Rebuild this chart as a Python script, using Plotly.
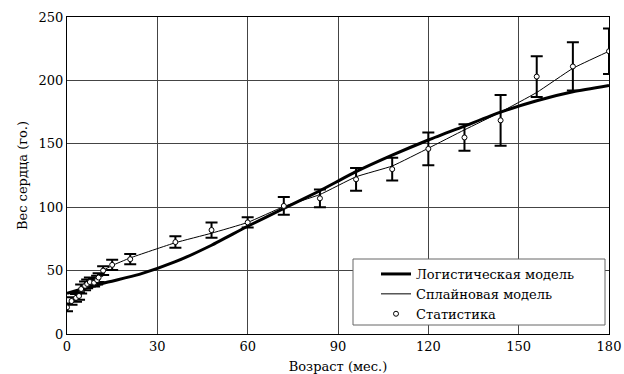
import plotly.graph_objects as go

# Observed heart weight by age (months), with spread
stat_age = [0, 1.5, 3, 4, 4.7, 6, 6.7, 7.6, 9, 10, 10.5, 12, 15, 21, 36, 48, 60, 72, 84, 96, 108, 120, 132, 144, 156, 168, 180]
stat_weight = [21, 26, 28.5, 30, 35.5, 38, 39.5, 41, 40.5, 42.5, 44.5, 50, 54.5, 59, 72.5, 82, 88, 101, 107, 122, 130, 146, 155, 168.5, 203, 211, 223]
stat_err = [3, 3, 3, 3, 3.5, 3.5, 3.5, 3.5, 3, 3.5, 3.5, 3.5, 4, 4, 4.5, 6, 4, 7, 7, 9, 9, 13, 10.5, 20, 16, 19, 18]

# Logistic model curve
logit_age = [0, 12, 24, 36, 48, 60, 72, 84, 96, 108, 120, 132, 144, 156, 168, 180]
logit_weight = [32, 40, 47, 57, 70, 85, 99, 113, 128, 141, 153, 164, 175, 184, 191, 196]

# Spline model curve
spline_age = [0, 2, 4, 6, 8, 10, 12, 15, 21, 36, 48, 60, 72, 84, 96, 108, 120, 132, 144, 156, 168, 180]
spline_weight = [21, 26, 31, 37, 40.5, 43, 50, 54, 60, 72, 79.5, 88, 100.5, 110, 124, 132.5, 146.5, 161, 175, 190.5, 209.5, 223]

x_ticks = [0, 30, 60, 90, 120, 150, 180]
y_ticks = [0, 50, 100, 150, 200, 250]

FONT = "DejaVu Serif"
FS = 13

fig = go.Figure()

fig.add_trace(go.Scatter(
    x=logit_age, y=logit_weight, mode="lines",
    name="Логистическая модель",
    line=dict(color="black", width=3, shape="spline", smoothing=0.6),
))
fig.add_trace(go.Scatter(
    x=spline_age, y=spline_weight, mode="lines",
    name="Сплайновая модель",
    line=dict(color="black", width=1, shape="spline", smoothing=0.4),
))
fig.add_trace(go.Scatter(
    x=stat_age, y=stat_weight, mode="markers",
    name="Статистика",
    marker=dict(symbol="circle", size=5, color="white",
                line=dict(color="black", width=1)),
    error_y=dict(type="data", array=stat_err, visible=True,
                 color="black", thickness=2, width=6),
))

axis_common = dict(
    showgrid=True, gridcolor="#444444", gridwidth=1,
    showline=True, linecolor="black", linewidth=1, mirror=True,
    zeroline=False, ticks="", automargin=False,
    tickfont=dict(family=FONT, size=FS, color="black"),
)

# Legend frame: white panel that hides the grid behind the legend
fig.add_shape(
    type="rect", xref="paper", yref="paper",
    x0=(353 - 67) / 542, x1=(605 - 67) / 542,
    y0=(334 - 325) / 317, y1=(334 - 259) / 317,
    fillcolor="white", line=dict(color="#666666", width=1), layer="above",
)

fig.update_layout(
    width=624, height=374,
    margin=dict(l=67, r=15, t=17, b=40),
    plot_bgcolor="white", paper_bgcolor="white",
    font=dict(family=FONT, color="black"),
    xaxis=dict(range=[0, 180], tickvals=x_ticks,
               title=dict(text="Возраст (мес.)", font=dict(family=FONT, size=FS), standoff=9),
               **axis_common),
    yaxis=dict(range=[0, 250], tickvals=y_ticks,
               title=dict(text="Вес сердца (го.)", font=dict(family=FONT, size=FS), standoff=8),
               **axis_common),
    legend=dict(
        x=(376 - 67) / 542, y=(334 - 259) / 317, xanchor="left", yanchor="top",
        bgcolor="rgba(0,0,0,0)", borderwidth=0,
        font=dict(family=FONT, size=FS, color="black"),
        tracegroupgap=0,
    ),
    showlegend=True,
)

fig.write_html("out.html")
